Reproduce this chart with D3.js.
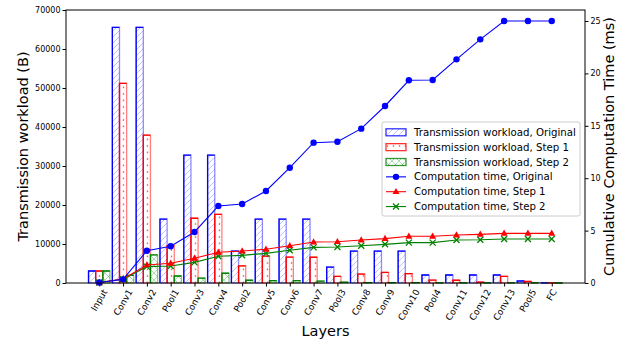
<!DOCTYPE html>
<html><head><meta charset="utf-8">
<script src="https://cdn.jsdelivr.net/npm/d3@7"></script>
<style>body{margin:0;background:#fff}svg{display:block}text{font-family:"DejaVu Sans",sans-serif}</style>
</head><body><svg id="c" width="630" height="345"></svg>
<script>
const categories = ["Input","Conv1","Conv2","Pool1","Conv3","Conv4","Pool2","Conv5","Conv6","Conv7","Pool3","Conv8","Conv9","Conv10","Pool4","Conv11","Conv12","Conv13","Pool5","FC"];
const workOriginal = [3072,65536,65536,16384,32768,32768,8192,16384,16384,16384,4096,8192,8192,8192,2048,2048,2048,2048,512,10];
const workStep1 = [3072,51200,37900,9550,16600,17600,4400,6900,6650,6600,1700,2300,2700,2400,750,700,250,1700,400,10];
const workStep2 = [3072,1950,7200,1800,1250,2500,700,600,600,500,200,100,100,100,50,50,50,50,20,5];
const compOriginal = [0.05,0.35,3.08,3.5,4.87,7.35,7.54,8.78,11.0,13.39,13.48,14.73,16.89,19.34,19.37,21.34,23.25,25.0,25.0,25.0];
const compStep1 = [0.05,0.38,1.72,1.88,2.36,2.93,3.05,3.22,3.56,3.91,3.94,4.1,4.23,4.46,4.46,4.58,4.64,4.74,4.74,4.74];
const compStep2 = [0.05,0.35,1.56,1.62,1.97,2.55,2.64,2.83,3.12,3.4,3.43,3.56,3.69,3.85,3.85,4.1,4.12,4.2,4.2,4.2];
const leftTicks = [0,10000,20000,30000,40000,50000,60000,70000];
const rightTicks = [0,5,10,15,20,25];
const legendLabels = ["Transmission workload, Original","Transmission workload, Step 1","Transmission workload, Step 2","Computation time, Original","Computation time, Step 1","Computation time, Step 2"];

const svg = d3.select("#c");
const L=66,R=585,T=10,B=283;
const x = d3.scalePoint().domain(categories).range([L,R]).padding(1.396);
const yL = d3.scaleLinear().domain([0,70000]).range([B,T]);
const yR = d3.scaleLinear().domain([0,26.05]).range([B,T]);
const step = x.step();
const bw = 0.3*step;

// patterns
const defs = svg.append("defs");
const pb = defs.append("pattern").attr("id","hb").attr("patternUnits","userSpaceOnUse").attr("width",6).attr("height",6);
pb.append("path").attr("d","M-1,7 L7,-1 M-1,1 L1,-1 M5,7 L7,5").attr("stroke","rgba(60,60,255,0.35)").attr("stroke-width",0.9);
const pr = defs.append("pattern").attr("id","hr").attr("patternUnits","userSpaceOnUse").attr("width",6).attr("height",6.5);
pr.append("circle").attr("cx",3.5).attr("cy",3).attr("r",0.8).attr("fill","rgba(255,0,0,0.7)");
const pg = defs.append("pattern").attr("id","hg").attr("patternUnits","userSpaceOnUse").attr("width",7).attr("height",7);
pg.append("path").attr("d","M0,0 L7,7 M7,0 L0,7").attr("stroke","rgba(0,128,0,0.35)").attr("stroke-width",0.9);

const barSeries = [
  {vals:workOriginal, off:-1, col:"#0000ff", light:"rgba(0,0,255,0.45)", pat:"url(#hb)"},
  {vals:workStep1, off:0, col:"#ff0000", light:"rgba(255,0,0,0.5)", pat:"url(#hr)"},
  {vals:workStep2, off:1, col:"#008000", light:"rgba(0,128,0,0.45)", pat:"url(#hg)"}
];
const gb = svg.append("g");
barSeries.forEach(s=>{
  const g = gb.append("g");
  categories.forEach((c,i)=>{
    const x0 = x(c)+s.off*bw-bw/2, y0=yL(s.vals[i]), h=B-y0;
    g.append("rect").attr("x",x0).attr("y",y0).attr("width",bw).attr("height",h)
      .attr("fill",s.pat).attr("stroke",s.light).attr("stroke-width",1.3);
    g.append("path").attr("d",`M${x0},${B} V${y0} H${x0+bw}`).attr("fill","none").attr("stroke",s.col).attr("stroke-width",1.3);
  });
});

// lines
const lineSeries = [
  {vals:compOriginal, col:"#0000ff", m:"o"},
  {vals:compStep1, col:"#ff0000", m:"^"},
  {vals:compStep2, col:"#008000", m:"x"}
];
function marker(g,m,cx,cy,col){
  if(m==="o") g.append("circle").attr("cx",cx).attr("cy",cy).attr("r",3.2).attr("fill",col);
  else if(m==="^") g.append("path").attr("d",`M${cx},${cy-3.8} L${cx+3.5},${cy+2.4} L${cx-3.5},${cy+2.4}Z`).attr("fill",col);
  else g.append("path").attr("d",`M${cx-3},${cy-3} L${cx+3},${cy+3} M${cx+3},${cy-3} L${cx-3},${cy+3}`).attr("stroke",col).attr("stroke-width",1.3);
}
const line = d3.line().x((d,i)=>x(categories[i])).y(d=>yR(d));
lineSeries.slice().reverse().forEach(s=>{
  const g = svg.append("g");
  g.append("path").datum(s.vals).attr("d",line).attr("fill","none").attr("stroke",s.col).attr("stroke-width",1.1);
  s.vals.forEach((v,i)=>marker(g,s.m,x(categories[i]),yR(v),s.col));
});

// frame
svg.append("rect").attr("x",L).attr("y",T).attr("width",R-L).attr("height",B-T).attr("fill","none").attr("stroke","#000").attr("stroke-width",1);

// axes
const ga = svg.append("g").attr("transform",`translate(${L},0)`).call(d3.axisLeft(yL).tickValues(leftTicks).tickFormat(d3.format("d")).tickSize(3.5).tickPadding(2));
const gr = svg.append("g").attr("transform",`translate(${R},0)`).call(d3.axisRight(yR).tickValues(rightTicks).tickFormat(d3.format("d")).tickSize(3.5).tickPadding(2));
const gx = svg.append("g").attr("transform",`translate(0,${B})`).call(d3.axisBottom(x).tickSize(3.5).tickFormat(""));
[ga,gr,gx].forEach(g=>{g.select(".domain").remove(); g.selectAll("line").attr("stroke","#000"); g.selectAll("text").attr("font-size",8).attr("fill","#000").attr("font-family","DejaVu Sans");});

// x labels rotated 60
const fs=9, s60=Math.sin(Math.PI/3), c60=0.5;
const xl = svg.append("g");
categories.forEach(c=>{
  const t = xl.append("text").text(c).attr("font-size",fs).attr("text-anchor","middle").attr("dominant-baseline","central");
  const len = t.node().getComputedTextLength();
  const H = len*s60 + fs*1.17*c60;
  t.attr("transform",`translate(${x(c)},${287.5+H/2}) rotate(-60)`);
});

// titles
svg.append("text").text("Layers").attr("x",(L+R)/2).attr("y",335.5).attr("text-anchor","middle").attr("font-size",14.5);
svg.append("text").text("Transmission workload (B)").attr("transform",`translate(28,${(T+B)/2}) rotate(-90)`).attr("text-anchor","middle").attr("font-size",14.5);
svg.append("text").text("Cumulative Computation Time (ms)").attr("transform",`translate(614,${(T+B)/2}) rotate(-90)`).attr("text-anchor","middle").attr("font-size",14.5);

// legend
const lg = svg.append("g");
lg.append("rect").attr("x",382).attr("y",122).attr("width",198).attr("height",94).attr("rx",2).attr("fill","rgba(255,255,255,0.85)").attr("stroke","#ccc").attr("stroke-width",1);
legendLabels.forEach((lab,i)=>{
  const cy = 132.3+i*14.85;
  if(i<3){
    const s=barSeries[i];
    lg.append("rect").attr("x",386).attr("y",cy-3.5).attr("width",20).attr("height",7).attr("fill",s.pat).attr("stroke",s.col).attr("stroke-width",1.3).attr("stroke-opacity",0.8);
  } else {
    const s=lineSeries[i-3];
    lg.append("line").attr("x1",386).attr("x2",406).attr("y1",cy).attr("y2",cy).attr("stroke",s.col).attr("stroke-width",1.1);
    marker(lg,s.m,396,cy,s.col);
  }
  lg.append("text").text(lab).attr("x",414).attr("y",cy+3.6).attr("font-size",10.2);
});
</script></body></html>
